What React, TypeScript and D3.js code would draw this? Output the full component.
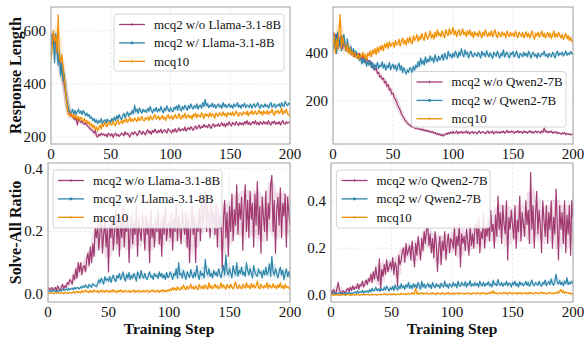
import React from "react";
import * as d3 from "d3";

const steps: number[] = d3.range(0, 201);
const xTicks = [0, 50, 100, 150, 200];
const seriesNames = ["mcq2 w/o", "mcq2 w/", "mcq10"];
const COLORS = ["#A23B72", "#2E86AB", "#F18F01"];

// Response length, Llama-3.1-8B
const lenLlamaWo = [
  580, 575, 590, 555, 540, 520, 500, 490, 470, 455,
  430, 400, 370, 340, 310, 290, 285, 280, 275, 270,
  265, 275, 245, 270, 260, 255, 262, 250, 248, 255,
  245, 240, 235, 230, 228, 222, 215, 225, 205, 200,
  210, 205, 215, 208, 212, 205, 210, 200, 215, 210,
  205, 212, 198, 210, 215, 205, 210, 202, 208, 215,
  212, 205, 220, 210, 215, 208, 200, 212, 218, 210,
  220, 215, 205, 212, 225, 218, 210, 222, 215, 208,
  220, 228, 215, 222, 210, 225, 218, 230, 220, 215,
  225, 218, 230, 215, 222, 228, 220, 215, 232, 225,
  222, 215, 228, 220, 232, 218, 225, 235, 222, 228,
  230, 225, 238, 222, 230, 235, 228, 240, 232, 225,
  235, 242, 230, 238, 245, 232, 240, 236, 248, 238,
  242, 235, 248, 240, 232, 245, 250, 238, 245, 242,
  250, 240, 246, 255, 242, 250, 238, 252, 245, 258,
  248, 242, 255, 250, 245, 258, 250, 243, 255, 248,
  252, 245, 258, 250, 262, 248, 255, 245, 252, 258,
  250, 262, 248, 255, 245, 258, 252, 248, 260, 250,
  255, 248, 262, 250, 245, 258, 252, 260, 248, 255,
  250, 258, 245, 255, 262, 250, 248, 258, 252, 255,
  258,
];
const lenLlamaW = [
  540, 585, 560, 480, 590, 545, 470, 520, 430, 480,
  410, 440, 380, 350, 320, 300, 295, 290, 305, 285,
  300, 285, 295, 305, 290, 298, 285, 300, 292, 280,
  290, 278, 285, 270, 275, 262, 270, 255, 265, 250,
  262, 255, 270, 248, 260, 265, 252, 268, 258, 262,
  255, 270, 260, 275, 262, 280, 268, 285, 272, 265,
  280, 290, 272, 285, 295, 278, 290, 285, 300, 288,
  320, 295, 305, 288, 310, 298, 290, 305, 295, 302,
  292, 308, 298, 315, 300, 290, 305, 298, 312, 295,
  305, 298, 315, 302, 290, 308, 300, 318, 305, 295,
  310, 300, 295, 312, 305, 318, 300, 322, 308, 298,
  315, 305, 320, 310, 300, 318, 308, 325, 312, 305,
  318, 310, 325, 305, 315, 320, 308, 330, 315, 342,
  318, 325, 310, 320, 315, 328, 312, 322, 308, 318,
  325, 312, 320, 308, 330, 315, 322, 310, 318, 325,
  312, 320, 308, 325, 315, 318, 330, 312, 320, 308,
  322, 315, 328, 310, 320, 318, 312, 325, 308, 318,
  325, 312, 320, 330, 315, 308, 322, 318, 312, 325,
  315, 320, 308, 322, 330, 312, 318, 325, 310, 320,
  318, 325, 312, 330, 318, 315, 335, 322, 318, 328,
  322,
];
const lenLlama10 = [
  490, 540, 600, 560, 580, 520, 660, 500, 480, 510,
  470, 420, 380, 340, 300, 285, 280, 290, 275, 285,
  270, 282, 265, 278, 262, 275, 268, 258, 270, 255,
  262, 250, 258, 242, 250, 235, 245, 228, 238, 222,
  235, 245, 230, 250, 240, 255, 245, 238, 258, 248,
  252, 245, 260, 250, 242, 258, 265, 248, 255, 262,
  250, 265, 258, 270, 255, 262, 275, 258, 268, 260,
  272, 265, 258, 275, 262, 270, 278, 265, 260, 272,
  268, 275, 262, 280, 270, 265, 278, 285, 268, 272,
  278, 265, 272, 282, 268, 275, 262, 278, 285, 270,
  272, 280, 265, 278, 285, 270, 275, 288, 272, 268,
  282, 275, 290, 270, 278, 285, 272, 280, 268, 285,
  278, 290, 272, 285, 280, 275, 292, 282, 270, 288,
  280, 285, 275, 292, 278, 288, 282, 270, 290, 285,
  278, 292, 285, 280, 295, 282, 288, 275, 292, 285,
  290, 282, 295, 280, 288, 298, 285, 278, 292, 288,
  282, 295, 290, 285, 298, 280, 292, 288, 300, 285,
  292, 298, 285, 290, 302, 288, 295, 282, 298, 290,
  288, 300, 285, 295, 292, 305, 288, 282, 298, 292,
  300, 288, 295, 310, 285, 298, 292, 305, 288, 282,
  280,
];

// Response length, Qwen2-7B
const lenQwenWo = [
  490, 470, 440, 480, 420, 460, 430, 475, 420, 450,
  430, 410, 440, 405, 420, 395, 410, 400, 385, 405,
  395, 380, 400, 385, 370, 390, 375, 360, 380, 365,
  370, 355, 362, 340, 350, 330, 338, 315, 320, 300,
  305, 290, 295, 275, 282, 260, 268, 245, 250, 228,
  232, 215, 205, 195, 180, 170, 160, 145, 135, 128,
  118, 112, 105, 100, 98, 92, 88, 95, 85, 82,
  85, 80, 78, 82, 75, 80, 72, 78, 70, 75,
  68, 72, 65, 70, 62, 66, 58, 63, 55, 60,
  52, 58, 50, 55, 62, 58, 65, 60, 68, 62,
  70, 62, 66, 72, 60, 68, 64, 70, 62, 68,
  65, 72, 62, 68, 60, 66, 70, 62, 68, 65,
  60, 68, 72, 62, 66, 70, 64, 60, 68, 72,
  62, 68, 65, 72, 60, 66, 70, 63, 68, 62,
  70, 65, 72, 62, 68, 75, 64, 70, 66, 72,
  68, 62, 70, 66, 74, 64, 70, 68, 62, 72,
  66, 70, 62, 68, 74, 65, 70, 62, 68, 72,
  65, 70, 68, 62, 72, 66, 85, 68, 72, 64,
  70, 66, 72, 62, 68, 64, 70, 60, 66, 62,
  58, 64, 60, 66, 56, 62, 58, 60, 55, 58,
  60,
];
const lenQwenW = [
  470, 420, 480, 400, 490, 430, 470, 410, 460, 480,
  440, 410, 460, 420, 405, 430, 395, 420, 400, 410,
  380, 400, 370, 385, 355, 375, 360, 380, 345, 365,
  350, 370, 340, 360, 330, 352, 340, 362, 335, 350,
  345, 365, 338, 355, 328, 348, 340, 362, 330, 345,
  355, 335, 350, 325, 345, 360, 330, 348, 318, 340,
  325, 312, 330, 320, 340, 335, 315, 345, 330, 350,
  340, 365, 345, 380, 355, 370, 350, 385, 360, 375,
  365, 390, 370, 380, 360, 395, 375, 365, 388, 372,
  380, 395, 370, 400, 385, 375, 410, 388, 395, 380,
  400, 385, 410, 395, 380, 405, 390, 420, 398, 385,
  415, 395, 405, 380, 398, 410, 390, 385, 402, 395,
  388, 405, 395, 380, 410, 392, 400, 385, 412, 395,
  385, 402, 390, 378, 405, 395, 388, 410, 392, 380,
  400, 390, 415, 385, 398, 405, 390, 380, 402, 395,
  408, 385, 395, 410, 390, 380, 400, 395, 385, 405,
  390, 400, 385, 410, 395, 380, 398, 405, 388, 395,
  380, 402, 390, 385, 400, 395, 410, 388, 395, 382,
  400, 392, 385, 405, 395, 380, 398, 410, 390, 400,
  395, 405, 388, 398, 410, 392, 400, 395, 408, 398,
  400,
];
const lenQwen10 = [
  430, 480, 400, 460, 420, 500, 565, 420, 470, 440,
  430, 410, 440, 400, 425, 395, 410, 385, 405, 390,
  380, 400, 375, 395, 385, 405, 380, 395, 370, 400,
  390, 410, 385, 415, 400, 420, 395, 425, 405, 430,
  415, 435, 410, 440, 425, 445, 420, 450, 430, 440,
  445, 425, 455, 435, 440, 460, 430, 450, 465, 440,
  455, 435, 465, 445, 470, 450, 440, 475, 455, 465,
  480, 450, 470, 460, 485, 465, 455, 490, 470, 460,
  475, 495, 465, 480, 460, 490, 470, 500, 475, 485,
  470, 495, 480, 465, 500, 485, 475, 505, 480, 490,
  510, 480, 495, 470, 490, 500, 475, 485, 505, 480,
  490, 470, 495, 480, 500, 475, 488, 465, 492, 478,
  485, 470, 495, 480, 465, 490, 475, 500, 482, 470,
  488, 475, 495, 470, 485, 500, 478, 465, 490, 480,
  470, 492, 478, 485, 465, 495, 480, 470, 490, 475,
  485, 470, 495, 478, 465, 490, 480, 472, 488, 465,
  478, 492, 470, 485, 465, 480, 495, 472, 460, 485,
  475, 490, 468, 480, 495, 470, 485, 465, 478, 490,
  470, 485, 462, 478, 495, 468, 482, 470, 490, 475,
  465, 480, 458, 472, 485, 462, 475, 455, 468, 450,
  448,
];

// Solve-all ratio, Llama-3.1-8B
const solveLlamaWo = [
  .02, .015, .01, .02, .01, .015, .02, .01, .025, .015,
  .01, .02, .03, .015, .025, .02, .035, .03, .045, .04,
  .03, .06, .045, .08, .05, .1, .07, .1, .06, .085,
  .09, .07, .11, .13, .09, .15, .1, .16, .12, .21,
  .18, .22, .14, .2, .25, .13, .19, .23, .15, .21,
  .07, .22, .18, .25, .14, .2, .27, .16, .23, .12,
  .24, .18, .28, .15, .22, .2, .26, .1, .21, .25,
  .16, .23, .19, .28, .12, .24, .2, .17, .26, .22,
  .14, .25, .19, .23, .1, .27, .18, .22, .15, .24,
  .2, .27, .16, .23, .12, .25, .19, .28, .17, .22,
  .23, .18, .26, .14, .24, .2, .29, .17, .25, .21,
  .16, .27, .22, .19, .26, .15, .24, .1, .22, .28,
  .19, .25, .1, .23, .2, .27, .17, .31, .22, .26,
  .33, .2, .28, .24, .18, .3, .22, .26, .19, .29,
  .15, .27, .21, .25, .08, .24, .3, .18, .26, .12,
  .28, .2, .32, .17, .27, .22, .35, .19, .29, .24,
  .31, .14, .28, .35, .2, .3, .18, .33, .24, .29,
  .15, .32, .22, .36, .19, .28, .13, .31, .25, .2,
  .33, .17, .29, .24, .35, .38, .2, .3, .13, .27,
  .31, .22, .34, .18, .29, .25, .32, .15, .31, .26,
  .22,
];
const solveLlamaW = [
  .005, .008, .01, .005, .012, .008, .01, .005, .01, .008,
  .012, .008, .015, .01, .012, .015, .01, .018, .012, .015,
  .018, .012, .02, .015, .02, .018, .015, .022, .018, .025,
  .02, .028, .022, .018, .03, .025, .02, .032, .028, .025,
  .022, .03, .045, .035, .05, .04, .03, .055, .042, .048,
  .04, .055, .035, .05, .06, .045, .038, .058, .05, .065,
  .045, .055, .07, .05, .04, .062, .05, .068, .045, .058,
  .05, .065, .055, .04, .07, .06, .048, .075, .055, .05,
  .065, .05, .045, .06, .07, .052, .058, .045, .065, .055,
  .06, .048, .07, .055, .065, .05, .06, .045, .068, .052,
  .055, .07, .06, .045, .065, .058, .08, .05, .1, .06,
  .065, .05, .075, .058, .045, .07, .06, .052, .078, .06,
  .05, .068, .055, .09, .06, .045, .072, .058, .065, .05,
  .11, .07, .06, .08, .055, .065, .05, .075, .06, .068,
  .055, .08, .065, .05, .07, .09, .06, .125, .07, .06,
  .08, .065, .05, .09, .07, .06, .1, .055, .075, .065,
  .085, .06, .07, .055, .1, .075, .06, .08, .065, .05,
  .09, .07, .06, .055, .08, .065, .07, .05, .075, .06,
  .085, .06, .07, .095, .055, .12, .07, .06, .08, .065,
  .05, .07, .085, .06, .075, .045, .065, .08, .055, .07,
  .05,
];
const solveLlama10 = [
  .002, .0, .003, .001, .002, .0, .004, .001, .002, .003,
  .001, .004, .002, .0, .005, .002, .003, .001, .004, .002,
  .003, .006, .002, .005, .008, .003, .006, .002, .01, .004,
  .006, .012, .005, .008, .003, .01, .006, .004, .012, .007,
  .005, .01, .003, .008, .012, .005, .009, .004, .011, .006,
  .008, .004, .01, .006, .013, .005, .008, .003, .01, .006,
  .012, .005, .009, .004, .011, .007, .005, .01, .004, .008,
  .006, .012, .004, .009, .005, .011, .007, .004, .01, .006,
  .009, .005, .012, .006, .004, .01, .007, .012, .005, .009,
  .006, .011, .004, .009, .007, .013, .005, .01, .006, .012,
  .008, .015, .01, .02, .012, .018, .01, .022, .014, .012,
  .02, .015, .028, .018, .012, .024, .015, .02, .03, .016,
  .022, .014, .025, .018, .012, .03, .02, .016, .025, .015,
  .028, .02, .014, .035, .018, .025, .015, .022, .03, .018,
  .025, .015, .02, .035, .018, .028, .02, .014, .03, .022,
  .018, .03, .02, .015, .025, .038, .02, .016, .028, .02,
  .015, .03, .022, .018, .035, .02, .025, .015, .032, .02,
  .028, .018, .025, .04, .02, .015, .03, .022, .018, .025,
  .02, .035, .016, .028, .022, .018, .032, .02, .025, .015,
  .028, .02, .035, .018, .025, .015, .03, .02, .022, .018,
  .015,
];

// Solve-all ratio, Qwen2-7B
const solveQwenWo = [
  .02, .01, .025, .015, .005, .03, .055, .02, .015, .01,
  .02, .015, .01, .025, .03, .015, .035, .02, .04, .025,
  .035, .03, .05, .025, .045, .04, .06, .035, .05, .065,
  .045, .07, .06, .09, .055, .1, .07, .12, .08, .06,
  .155, .02, .11, .08, .13, .09, .15, .1, .12, .14,
  .11, .16, .09, .14, .12, .04, .17, .13, .15, .19,
  .2, .14, .22, .17, .19, .21, .15, .23, .18, .12,
  .22, .17, .25, .2, .15, .24, .19, .27, .22, .28,
  .29, .21, .26, .18, .24, .16, .27, .22, .1, .2,
  .25, .13, .23, .19, .27, .15, .22, .26, .18, .24,
  .23, .2, .29, .17, .25, .21, .3, .12, .26, .22,
  .25, .19, .28, .23, .17, .3, .21, .26, .2, .29,
  .3, .22, .33, .18, .27, .24, .35, .2, .29, .25,
  .32, .23, .36, .27, .3, .2, .34, .25, .42, .28,
  .35, .22, .38, .3, .26, .4, .15, .33, .28, .36,
  .3, .24, .38, .2, .32, .27, .42, .23, .35, .3,
  .25, .4, .3, .36, .22, .52, .28, .38, .2, .34,
  .44, .26, .36, .3, .18, .4, .32, .25, .38, .22,
  .35, .28, .4, .2, .33, .26, .45, .3, .15, .38,
  .28, .35, .22, .4, .18, .34, .26, .38, .17, .4,
  .33,
];
const solveQwenW = [
  .008, .004, .012, .006, .01, .003, .008, .012, .005, .009,
  .006, .012, .004, .01, .007, .014, .005, .01, .008, .012,
  .015, .008, .02, .01, .016, .012, .022, .008, .018, .014,
  .02, .012, .025, .015, .03, .018, .022, .035, .02, .028,
  .018, .03, .025, .02, .035, .022, .04, .028, .018, .032,
  .025, .038, .02, .045, .03, .022, .04, .028, .05, .032,
  .04, .025, .045, .035, .055, .03, .042, .028, .05, .035,
  .045, .03, .055, .04, .025, .06, .035, .048, .03, .042,
  .05, .035, .045, .028, .055, .04, .032, .05, .038, .045,
  .03, .052, .04, .035, .06, .038, .045, .03, .05, .042,
  .035, .055, .04, .048, .032, .06, .042, .038, .055, .045,
  .04, .058, .035, .05, .045, .062, .038, .048, .04, .055,
  .042, .05, .035, .06, .045, .04, .055, .038, .05, .045,
  .058, .04, .048, .035, .065, .045, .05, .04, .068, .048,
  .042, .055, .038, .05, .045, .06, .04, .052, .048, .035,
  .055, .045, .06, .04, .05, .035, .058, .045, .052, .04,
  .048, .06, .042, .055, .038, .05, .065, .045, .04, .055,
  .05, .042, .06, .045, .038, .055, .048, .065, .04, .052,
  .058, .045, .07, .05, .042, .06, .09, .055, .048, .062,
  .045, .055, .04, .06, .05, .075, .045, .055, .048, .06,
  .05,
];
const solveQwen10 = [
  .002, .005, .0, .003, .001, .004, .002, .0, .003, .001,
  .004, .002, .0, .003, .005, .001, .003, .0, .002, .004,
  .001, .003, .005, .002, .0, .004, .002, .006, .001, .003,
  .005, .002, .004, .001, .006, .003, .002, .005, .001, .004,
  .003, .006, .002, .004, .008, .003, .005, .002, .007, .004,
  .006, .003, .008, .004, .002, .007, .005, .003, .009, .004,
  .005, .008, .003, .006, .01, .004, .007, .012, .005, .008,
  .03, .006, .01, .004, .008, .012, .005, .009, .006, .011,
  .007, .004, .01, .006, .012, .005, .008, .004, .011, .006,
  .009, .005, .012, .007, .004, .01, .006, .013, .005, .008,
  .006, .011, .004, .009, .007, .012, .005, .01, .006, .008,
  .01, .005, .008, .012, .006, .009, .004, .011, .007, .01,
  .006, .012, .008, .005, .01, .007, .013, .006, .009, .005,
  .011, .007, .015, .009, .02, .008, .012, .006, .01, .008,
  .012, .006, .009, .014, .007, .011, .005, .01, .013, .008,
  .006, .012, .008, .01, .005, .013, .008, .011, .006, .009,
  .012, .007, .01, .005, .014, .008, .011, .006, .009, .013,
  .008, .011, .006, .01, .015, .007, .012, .009, .005, .011,
  .009, .013, .007, .01, .006, .012, .008, .015, .01, .018,
  .025, .012, .02, .008, .015, .01, .012, .007, .01, .005,
  .008,
];

const FONT = "'Liberation Serif', 'Times New Roman', Times, serif";

type PanelProps = {
  x0: number; x1: number; y0: number; y1: number;
  yDomain: [number, number];
  yTicks: number[];
  yFmt: (v: number) => string;
  data: number[][];
  model: string;
  legend: { x: number; y: number; w: number; h: number };
  id: string;
};

function band(vals: number[]) {
  return vals.map((_, i) => {
    const w = vals.slice(Math.max(0, i - 3), Math.min(vals.length, i + 4));
    const m = d3.mean(w) as number;
    const s = (d3.deviation(w) as number) || 0;
    return [m - s, m + s];
  });
}

function Panel(p: PanelProps) {
  const x = d3.scaleLinear().domain([0, 200]).range([p.x0, p.x1]);
  const y = d3.scaleLinear().domain(p.yDomain).range([p.y1, p.y0]);
  const line = d3.line<number>().x((_, i) => x(steps[i])).y((d) => y(d));
  const area = d3
    .area<number[]>()
    .x((_, i) => x(steps[i]))
    .y0((d) => y(d[0]))
    .y1((d) => y(d[1]));
  const L = p.legend;
  const labels = [
    `${seriesNames[0]} ${p.model}`,
    `${seriesNames[1]} ${p.model}`,
    seriesNames[2],
  ];
  return (
    <g>
      <defs>
        <clipPath id={p.id}>
          <rect x={p.x0} y={p.y0} width={p.x1 - p.x0} height={p.y1 - p.y0} />
        </clipPath>
      </defs>
      {xTicks.map((t) => (
        <line key={"gx" + t} x1={x(t)} x2={x(t)} y1={p.y0} y2={p.y1} stroke="#e3e3e3" strokeWidth={0.8} strokeDasharray="2.5,2" />
      ))}
      {p.yTicks.map((t) => (
        <line key={"gy" + t} x1={p.x0} x2={p.x1} y1={y(t)} y2={y(t)} stroke="#e3e3e3" strokeWidth={0.8} strokeDasharray="2.5,2" />
      ))}
      <g clipPath={`url(#${p.id})`}>
        {p.data.map((s, k) => (
          <path key={"b" + k} d={area(band(s)) as string} fill={COLORS[k]} opacity={0.16} />
        ))}
        {p.data.map((s, k) => (
          <path key={"l" + k} d={line(s) as string} fill="none" stroke={COLORS[k]} strokeWidth={1.2} strokeLinejoin="round" />
        ))}
      </g>
      <rect x={p.x0} y={p.y0} width={p.x1 - p.x0} height={p.y1 - p.y0} fill="none" stroke="#a0a0a0" strokeWidth={1} />
      {xTicks.map((t) => (
        <text key={"tx" + t} x={x(t)} y={p.y1 + 14.5} textAnchor="middle" fontSize={15} fontFamily={FONT} fill="#111">{t}</text>
      ))}
      {p.yTicks.map((t) => (
        <text key={"ty" + t} x={p.x0 - 5} y={y(t) + 5} textAnchor="end" fontSize={15} fontFamily={FONT} fill="#111">{p.yFmt(t)}</text>
      ))}
      <rect x={L.x} y={L.y} width={L.w} height={L.h} rx={3} fill="#fff" fillOpacity={0.85} stroke="#d0d0d0" strokeWidth={0.9} />
      {labels.map((lab, k) => {
        const cy = L.y + 10.5 + k * 18.4;
        const hx0 = L.x + 5;
        const hx1 = L.x + 31;
        const mx = (hx0 + hx1) / 2;
        return (
          <g key={"lg" + k}>
            <line x1={hx0} x2={hx1} y1={cy} y2={cy} stroke={COLORS[k]} strokeWidth={1.3} />
            {k === 1 ? (
              <rect x={mx - 1.3} y={cy - 1.3} width={2.6} height={2.6} fill={COLORS[k]} />
            ) : (
              <line x1={mx} x2={mx} y1={cy - 1.5} y2={cy + 1.5} stroke={COLORS[k]} strokeWidth={0.8} />
            )}
            <text x={L.x + 40} y={cy + 4.3} fontSize={12.9} fontFamily={FONT} fill="#111">{lab}</text>
          </g>
        );
      })}
    </g>
  );
}

export default function App() {
  const fmt0 = (v: number) => d3.format("d")(v);
  const fmt1 = (v: number) => d3.format(".1f")(v);
  return (
    <svg width={585} height={338} style={{ position: "absolute", left: 0, top: 0, background: "#fff" }}>
      <rect x={0} y={0} width={585} height={338} fill="#fff" />
      <Panel id="c1" x0={51} x1={290} y0={7} y1={144} yDomain={[174, 689]} yTicks={[200, 400, 600]} yFmt={fmt0}
        data={[lenLlamaWo, lenLlamaW, lenLlama10]} model="Llama-3.1-8B" legend={{ x: 114, y: 14, w: 170, h: 57 }} />
      <Panel id="c2" x0={333} x1={573} y0={7} y1={144} yDomain={[17, 596]} yTicks={[200, 400]} yFmt={fmt0}
        data={[lenQwenWo, lenQwenW, lenQwen10]} model="Qwen2-7B" legend={{ x: 411.5, y: 71.5, w: 154.5, h: 55.5 }} />
      <Panel id="c3" x0={48} x1={290} y0={163} y1={302} yDomain={[-0.027, 0.42]} yTicks={[0, 0.2, 0.4]} yFmt={fmt1}
        data={[solveLlamaWo, solveLlamaW, solveLlama10]} model="Llama-3.1-8B" legend={{ x: 53, y: 170, w: 169, h: 58 }} />
      <Panel id="c4" x0={331} x1={573} y0={163} y1={302} yDomain={[-0.028, 0.56]} yTicks={[0, 0.2, 0.4]} yFmt={fmt1}
        data={[solveQwenWo, solveQwenW, solveQwen10]} model="Qwen2-7B" legend={{ x: 336.5, y: 170, w: 153.5, h: 58 }} />
      <text transform="translate(21,75.5) rotate(-90)" textAnchor="middle" fontSize={16} fontWeight="bold" fontFamily={FONT} fill="#111">Response Length</text>
      <text transform="translate(21,232.5) rotate(-90)" textAnchor="middle" fontSize={16} fontWeight="bold" fontFamily={FONT} fill="#111">Solve-All Ratio</text>
      <text x={169} y={333.5} textAnchor="middle" fontSize={15.5} fontWeight="bold" fontFamily={FONT} fill="#111">Training Step</text>
      <text x={452} y={333.5} textAnchor="middle" fontSize={15.5} fontWeight="bold" fontFamily={FONT} fill="#111">Training Step</text>
    </svg>
  );
}
